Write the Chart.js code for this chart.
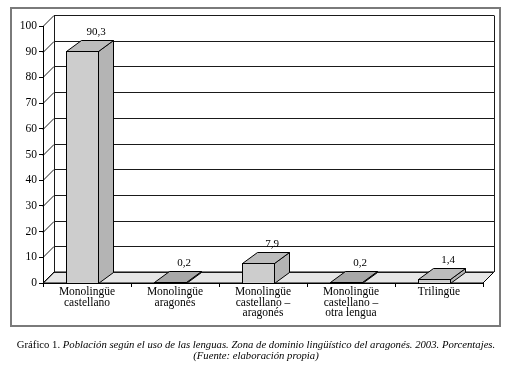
<!DOCTYPE html>
<html>
<head>
<meta charset="utf-8">
<script src="https://cdn.jsdelivr.net/npm/chart.js@4"></script>
<style>
  html, body { margin: 0; padding: 0; background: #fff; }
  #wrap { position: relative; width: 510px; height: 378px; }
  #caption {
    position: absolute; left: 0; top: 339px; width: 512px; white-space: nowrap;
    text-align: center; font: 10.7px 'Liberation Serif', serif; line-height: 11px; color: #000;
  }
</style>
</head>
<body>
<div id="wrap">
  <canvas id="c" width="510" height="378"></canvas>
  <div id="caption">Gráfico 1. <i>Población según el uso de las lenguas. Zona de dominio lingüístico del aragonés. 2003. Porcentajes.</i><br><i>(Fuente: elaboración propia)</i></div>
</div>
<script>
// categories and values
const categories = [
  ['Monolingüe', 'castellano'],
  ['Monolingüe', 'aragonés'],
  ['Monolingüe', 'castellano –', 'aragonés'],
  ['Monolingüe', 'castellano –', 'otra lengua'],
  ['Trilingüe'],
];
const values = [90.3, 0.2, 7.9, 0.2, 1.4];
const yMin = 0, yMax = 100, yStep = 10;

// 3D depth of walls and bars (px)
const DX = 11, DY = -11, BDX = 15;
const FONT = "'Liberation Serif', serif";

const fmt = v => v.toFixed(1).replace('.', ',');

const line = (ctx, x1, y1, x2, y2) => {
  ctx.beginPath();
  ctx.moveTo(x1, y1);
  ctx.lineTo(x2, y2);
  ctx.stroke();
};

const box3d = {
  id: 'box3d',
  beforeDraw(chart) {
    const { ctx, chartArea: a } = chart;
    const ys = chart.scales.y;
    ctx.save();
    ctx.fillStyle = '#fff';
    ctx.fillRect(0, 0, chart.width, chart.height);
    // outer frame
    ctx.strokeStyle = '#7a7a7a';
    ctx.lineWidth = 2;
    ctx.strokeRect(11, 8, 489, 318);

    // floor
    ctx.lineWidth = 1;
    ctx.strokeStyle = '#000';
    ctx.fillStyle = '#e6e6e6';
    ctx.beginPath();
    ctx.moveTo(a.left, a.bottom);
    ctx.lineTo(a.right, a.bottom);
    ctx.lineTo(a.right + DX, a.bottom + DY);
    ctx.lineTo(a.left + DX, a.bottom + DY);
    ctx.closePath();
    ctx.fill();
    ctx.stroke();

    // back wall gridlines + left wall diagonals
    ctx.strokeStyle = '#1a1a1a';
    for (let v = yMin; v <= yMax; v += yStep) {
      const y = Math.round(ys.getPixelForValue(v)) + 0.5;
      line(ctx, a.left + DX, y + DY, a.right + DX, y + DY);
      line(ctx, a.left, y, a.left + DX, y + DY);
    }
    const yt = Math.round(ys.getPixelForValue(yMax)) + 0.5;
    line(ctx, a.left + DX + 0.5, yt + DY, a.left + DX + 0.5, a.bottom + DY);
    line(ctx, a.right + DX + 0.5, yt + DY, a.right + DX + 0.5, a.bottom + DY);
    ctx.restore();
  },
  afterDatasetsDraw(chart) {
    const { ctx } = chart;
    const meta = chart.getDatasetMeta(0);
    ctx.save();
    ctx.lineWidth = 1;
    ctx.strokeStyle = '#000';
    meta.data.forEach((el, i) => {
      const p = el.getProps(['x', 'y', 'base', 'width'], true);
      const cx = p.x - 5;
      const x0 = Math.round(cx - p.width / 2) + 0.5, x1 = Math.round(cx + p.width / 2) + 0.5;
      const yt = Math.round(p.y) + 0.5, yb = Math.round(p.base) + 0.5;
      // side
      ctx.fillStyle = '#b4b4b4';
      ctx.beginPath();
      ctx.moveTo(x1, yb); ctx.lineTo(x1 + BDX, yb + DY); ctx.lineTo(x1 + BDX, yt + DY); ctx.lineTo(x1, yt);
      ctx.closePath(); ctx.fill(); ctx.stroke();
      // top
      ctx.fillStyle = values[i] < 1 ? '#a8a8a8' : '#bcbcbc';
      ctx.beginPath();
      ctx.moveTo(x0, yt); ctx.lineTo(x1, yt); ctx.lineTo(x1 + BDX, yt + DY); ctx.lineTo(x0 + BDX, yt + DY);
      ctx.closePath(); ctx.fill(); ctx.stroke();
      // front
      ctx.fillStyle = '#cdcdcd';
      ctx.fillRect(x0, yt, x1 - x0, yb - yt);
      ctx.strokeRect(x0, yt, x1 - x0, yb - yt);
      // value label
      ctx.fillStyle = '#000';
      ctx.font = '11px ' + FONT;
      ctx.textAlign = 'center';
      ctx.textBaseline = 'middle';
      ctx.fillText(fmt(values[i]), cx + BDX - 1, yt + DY - 8);
    });
    ctx.restore();
  },
};

new Chart(document.getElementById('c'), {
  type: 'bar',
  data: {
    labels: categories,
    datasets: [{
      data: values,
      backgroundColor: 'transparent',
      borderWidth: 0,
      categoryPercentage: 1,
      barPercentage: 0.36,
    }],
  },
  options: {
    responsive: false,
    animation: false,
    events: [],
    layout: { padding: { left: 10, top: 26, right: 27, bottom: 0 } },
    plugins: { legend: { display: false }, tooltip: { enabled: false } },
    scales: {
      x: {
        afterFit: s => { s.height = 95; },
        grid: { drawOnChartArea: false, tickLength: 4, color: '#000' },
        border: { color: '#000' },
        ticks: {
          color: '#000', autoSkip: false, maxRotation: 0, padding: 0,
          font: { family: FONT, size: 11.5, lineHeight: 0.92 },
        },
      },
      y: {
        min: yMin, max: yMax,
        afterFit: s => { s.width = 33; },
        grid: { drawOnChartArea: false, tickLength: 4, color: '#000' },
        border: { color: '#000' },
        ticks: {
          stepSize: yStep, color: '#000', padding: 2,
          font: { family: FONT, size: 11.5 },
        },
      },
    },
  },
  plugins: [box3d],
});
</script>
</body>
</html>
